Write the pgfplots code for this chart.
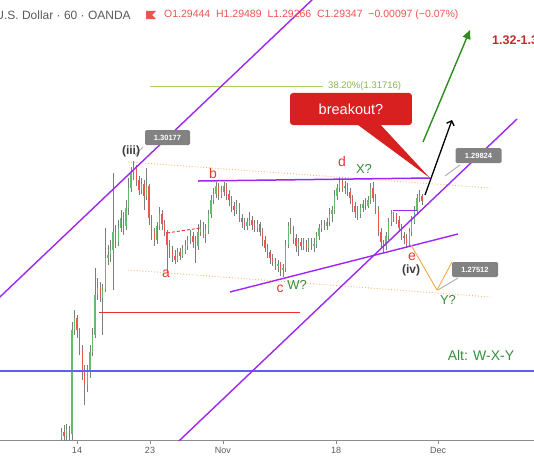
\documentclass[border=0pt]{standalone}
\usepackage{pgfplots}
\pgfplotsset{compat=1.18}
\usepackage{pgfplotstable}
\usepackage{fontspec}
\setmainfont{Liberation Sans}
\usetikzlibrary{arrows.meta}

\definecolor{wickgray}{RGB}{125,125,125}
\definecolor{upgreen}{RGB}{102,187,106}
\definecolor{downred}{RGB}{239,83,80}
\definecolor{levelred}{RGB}{236,48,48}
\definecolor{purp}{RGB}{156,39,240}
\definecolor{blueline}{RGB}{92,96,245}
\definecolor{dotorange}{RGB}{249,182,100}
\definecolor{pathorange}{RGB}{247,168,70}
\definecolor{wavegreen}{RGB}{56,142,60}
\definecolor{wavered}{RGB}{229,57,53}
\definecolor{wavegray}{RGB}{60,60,60}
\definecolor{fibgreen}{RGB}{165,212,95}
\definecolor{calloutred}{RGB}{216,32,32}
\definecolor{boxgray}{RGB}{130,130,130}
\definecolor{axisgray}{RGB}{140,140,140}
\definecolor{tickgray}{RGB}{90,90,90}
\definecolor{arrowgreen}{RGB}{46,139,30}
\definecolor{targetred}{RGB}{200,40,40}

% 6-hour candles, x in trading days from 14 Oct
\pgfplotstableread{
d o h l c
-1.5 1.2446 1.2466 1.2437 1.2458
-1.25 1.2458 1.2472 1.2437 1.2450
-1.0 1.2450 1.2475 1.2437 1.2462
-0.75 1.2462 1.2470 1.2437 1.2454
-0.5 1.2454 1.2685 1.2442 1.2669
-0.25 1.2669 1.2710 1.2658 1.2693
0 1.2693 1.2700 1.2652 1.2669
0.25 1.2669 1.2673 1.2617 1.2627
0.5 1.2627 1.2638 1.2565 1.2582
0.75 1.2582 1.2596 1.2514 1.2555
1.0 1.2555 1.2596 1.2541 1.2582
1.25 1.2582 1.2638 1.2570 1.2623
1.5 1.2623 1.2673 1.2615 1.2658
1.75 1.2658 1.2797 1.2652 1.2741
2.0 1.2741 1.2776 1.2731 1.2755
2.25 1.2755 1.2768 1.2726 1.2735
2.5 1.2735 1.2764 1.2658 1.2751
2.75 1.2751 1.2879 1.2747 1.2817
3.0 1.2817 1.2844 1.2803 1.2823
3.25 1.2823 1.2854 1.2809 1.2834
3.5 1.2834 1.2993 1.2751 1.2871
3.75 1.2871 1.2885 1.2838 1.2850
4.0 1.2850 1.2896 1.2842 1.2879
4.25 1.2879 1.2916 1.2871 1.2900
4.5 1.2900 1.2912 1.2865 1.2883
4.75 1.2883 1.2937 1.2875 1.2920
5.0 1.2920 1.2982 1.2906 1.2962
5.25 1.2962 1.3005 1.2954 1.2995
5.5 1.2995 1.30177 1.2978 1.3003
5.75 1.3003 1.3009 1.2966 1.2978
6.0 1.2978 1.2987 1.2947 1.2958
6.25 1.2958 1.2982 1.2949 1.2970
6.5 1.2970 1.2978 1.2916 1.2945
6.75 1.2945 1.3003 1.2937 1.2966
7.0 1.2966 1.2970 1.2885 1.2900
7.25 1.2900 1.2906 1.2854 1.2871
7.5 1.2871 1.2879 1.2842 1.2854
7.75 1.2854 1.2892 1.2846 1.2883
8.0 1.2883 1.2923 1.2875 1.2908
8.25 1.2908 1.2916 1.2875 1.2887
8.5 1.2887 1.2896 1.2863 1.2871
8.75 1.2871 1.2875 1.2786 1.2844
9.0 1.2844 1.2854 1.2817 1.2834
9.25 1.2834 1.2842 1.2809 1.2821
9.5 1.2821 1.2834 1.2805 1.2813
9.75 1.2813 1.2838 1.2809 1.2830
10 1.2830 1.2838 1.2813 1.2821
10.25 1.2821 1.2844 1.2817 1.2834
10.5 1.2834 1.2854 1.2826 1.2842
10.75 1.2842 1.2863 1.2834 1.2854
11 1.2854 1.2875 1.2846 1.2863
11.25 1.2863 1.2871 1.2838 1.2850
11.5 1.2850 1.2863 1.2807 1.2842
11.75 1.2842 1.2887 1.2834 1.2871
12 1.2871 1.2896 1.2863 1.2879
12.25 1.2879 1.2892 1.2859 1.2867
12.5 1.2867 1.2887 1.2848 1.2875
12.75 1.2875 1.2916 1.2867 1.2908
13 1.2908 1.2947 1.2900 1.2937
13.25 1.2937 1.2962 1.2929 1.2949
13.5 1.2949 1.2974 1.2941 1.2966
13.75 1.2966 1.2972 1.2937 1.2947
14 1.2947 1.2966 1.2941 1.2954
14.25 1.2954 1.2974 1.2945 1.2966
14.5 1.2966 1.2972 1.2937 1.2949
14.75 1.2949 1.2958 1.2925 1.2937
15 1.2937 1.2945 1.2912 1.2925
15.25 1.2925 1.2933 1.2904 1.2916
15.5 1.2916 1.2937 1.2908 1.2927
15.75 1.2927 1.2931 1.2892 1.2900
16 1.2900 1.2908 1.2879 1.2892
16.25 1.2892 1.2900 1.2875 1.2883
16.5 1.2883 1.2900 1.2875 1.2892
16.75 1.2892 1.2912 1.2883 1.2896
17 1.2896 1.2904 1.2875 1.2885
17.25 1.2885 1.2896 1.2871 1.2879
17.5 1.2879 1.2896 1.2871 1.2887
17.75 1.2887 1.2892 1.2863 1.2871
18 1.2871 1.2879 1.2842 1.2854
18.25 1.2854 1.2863 1.2830 1.2838
18.5 1.2838 1.2846 1.2817 1.2830
18.75 1.2830 1.2834 1.2805 1.2817
19 1.2817 1.2826 1.2801 1.2809
19.25 1.2809 1.2817 1.2793 1.2801
19.5 1.2801 1.2813 1.2788 1.2805
19.75 1.2805 1.2809 1.2780 1.2793
20 1.2793 1.2805 1.2778 1.2797
20.25 1.2797 1.2854 1.2788 1.2844
20.5 1.2844 1.2892 1.2838 1.2883
20.75 1.2883 1.2900 1.2867 1.2879
21 1.2879 1.2883 1.2846 1.2859
21.25 1.2859 1.2867 1.2830 1.2842
21.5 1.2842 1.2859 1.2821 1.2850
21.75 1.2850 1.2859 1.2834 1.2842
22 1.2842 1.2859 1.2834 1.2846
22.25 1.2846 1.2854 1.2830 1.2838
22.5 1.2838 1.2859 1.2830 1.2850
22.75 1.2850 1.2859 1.2834 1.2842
23 1.2842 1.2859 1.2830 1.2846
23.25 1.2846 1.2871 1.2838 1.2863
23.5 1.2863 1.2887 1.2854 1.2879
23.75 1.2879 1.2896 1.2871 1.2885
24 1.2885 1.2896 1.2875 1.2883
24.25 1.2883 1.2900 1.2875 1.2892
24.5 1.2892 1.2920 1.2883 1.2908
24.75 1.2908 1.2925 1.2892 1.2916
25 1.2916 1.2958 1.2908 1.2945
25.25 1.2945 1.2970 1.2937 1.2962
25.5 1.2962 1.2985 1.2954 1.2974
25.75 1.2974 1.2978 1.2954 1.2962
26 1.2962 1.2976 1.2949 1.2966
26.25 1.2966 1.2972 1.2945 1.2954
26.5 1.2954 1.2962 1.2929 1.2941
26.75 1.2941 1.2947 1.2912 1.2925
27 1.2925 1.2933 1.2900 1.2912
27.25 1.2912 1.2925 1.2896 1.2908
27.5 1.2908 1.2929 1.2900 1.2920
27.75 1.2920 1.2937 1.2912 1.2929
28 1.2929 1.2941 1.2916 1.2925
28.25 1.2925 1.2945 1.2920 1.2937
28.5 1.2937 1.2972 1.2929 1.2962
28.75 1.2962 1.2974 1.2933 1.2941
29 1.2941 1.2949 1.2908 1.2916
29.25 1.2916 1.2925 1.2863 1.2871
29.5 1.2871 1.2879 1.2838 1.2850
29.75 1.2850 1.2854 1.2830 1.2842
30 1.2842 1.2871 1.2834 1.2863
30.25 1.2863 1.2900 1.2854 1.2892
30.5 1.2892 1.2916 1.2883 1.2908
30.75 1.2908 1.2912 1.2892 1.2904
31 1.2904 1.2910 1.2887 1.2896
31.25 1.2896 1.2904 1.2871 1.2879
31.5 1.2879 1.2887 1.2854 1.2863
31.75 1.2863 1.2871 1.2846 1.2859
32 1.2859 1.2867 1.2838 1.2846
32.25 1.2846 1.2879 1.2842 1.2871
32.5 1.2871 1.2904 1.2863 1.2892
32.75 1.2892 1.2925 1.2887 1.2916
33 1.2916 1.2949 1.2908 1.2941
33.25 1.2941 1.2958 1.2933 1.29444
33.5 1.29444 1.29489 1.29266 1.29347
}\candles

\begin{document}
\begin{tikzpicture}
\begin{axis}[
  at={(0pt,0pt)}, anchor=south west,
  scale only axis, width=534pt, height=440pt,
  xmin=-7.476, xmax=44.369, ymin=1.24415, ymax=1.33499,
  axis x line*=bottom, axis y line=none,
  x axis line style={draw=axisgray, line width=0.9pt, -},
  xtick={0,7.087,14.17,25.15,35.05},
  xticklabels={14,23,Nov,18,Dec},
  xtick align=outside, major tick length=4pt,
  tick style={draw=axisgray, line width=0.7pt},
  xticklabel style={font=\fontsize{9}{10}\selectfont, text=tickgray},
  ytick=\empty,
  clip=true,
]
% wicks
\addplot[draw=none, fill=none, mark=none, forget plot,
  error bars/.cd, y dir=plus, y explicit, error mark=none,
  error bar style={line width=0.55pt, draw=wickgray}]
  table[x=d, y=l, y error plus expr=\thisrow{h}-\thisrow{l}] {\candles};
% rising bodies
\addplot[draw=none, fill=none, mark=none, forget plot,
  x filter/.expression={\thisrow{c}>=\thisrow{o} ? x : nan},
  error bars/.cd, y dir=plus, y explicit, error mark=none,
  error bar style={line width=1.3pt, draw=upgreen}]
  table[x=d, y=o, y error plus expr=\thisrow{c}-\thisrow{o}] {\candles};
% falling bodies
\addplot[draw=none, fill=none, mark=none, forget plot,
  x filter/.expression={\thisrow{c}<\thisrow{o} ? x : nan},
  error bars/.cd, y dir=plus, y explicit, error mark=none,
  error bar style={line width=1.3pt, draw=downred}]
  table[x=d, y=c, y error plus expr=\thisrow{o}-\thisrow{c}] {\candles};

% horizontal reference levels
\draw[blueline, line width=1.1pt] (axis cs:-8,1.25840) -- (axis cs:45,1.25840);
\draw[levelred, line width=1pt] (axis cs:2.136,1.27037) -- (axis cs:21.65,1.27037);
\draw[levelred, line width=0.9pt, dash pattern=on 3pt off 2pt] (axis cs:8.738,1.28689) -- (axis cs:11.942,1.28792);
\draw[fibgreen, line width=1pt] (axis cs:7.087,1.31716) -- (axis cs:23.883,1.31716);
\node[anchor=west, text=fibgreen!85!black, font=\fontsize{9.5}{10}\selectfont, inner sep=0pt]
  at (axis cs:24.37,1.31716) {38.20\%(1.31716)};

% dotted triangle boundaries
\draw[dotorange, line width=0.9pt, dotted] (axis cs:4.951,1.30155) -- (axis cs:40.097,1.29618);
\draw[dotorange, line width=0.9pt, dotted] (axis cs:4.951,1.27925) -- (axis cs:40.097,1.27368);

% rising channel
\draw[purp, line width=1.4pt] (axis cs:-9.42,1.26976) -- (axis cs:24.85,1.33912);
\draw[purp, line width=1.4pt] (axis cs:8.98,1.24209) -- (axis cs:42.72,1.31042);
% triangle
\draw[purp, line width=1.5pt] (axis cs:11.748,1.29762) -- (axis cs:34.272,1.29824);
\draw[purp, line width=1.4pt] (axis cs:14.854,1.27471) -- (axis cs:36.99,1.28668);
\draw[purp, line width=1pt] (axis cs:30.68,1.29143) -- (axis cs:33.01,1.29143);

% projected Y leg
\draw[pathorange, line width=0.9pt] (axis cs:32.427,1.28441) -- (axis cs:34.951,1.27512) -- (axis cs:36.408,1.2809);

% arrows
\draw[black, line width=1.3pt, -{Straight Barb[length=4pt,width=8pt]}] (axis cs:33.786,1.29473) -- (axis cs:36.408,1.31022);
\draw[arrowgreen, line width=1.4pt, -{Triangle[length=9pt,width=8pt]}] (axis cs:33.592,1.30568) -- (axis cs:38.155,1.3288);
\node[anchor=west, text=targetred, font=\bfseries\fontsize{12.5}{13}\selectfont, inner sep=0pt]
  at (axis cs:40.29,1.32673) {1.32-1.33};

% callout
\fill[calloutred] (axis cs:27.18,1.30935) -- (axis cs:34.27,1.29824) -- (axis cs:29.42,1.30935) -- cycle;
\fill[calloutred, rounded corners=3pt] (axis cs:20.68,1.31579) rectangle (axis cs:32.52,1.30918);
\node[text=white, font=\fontsize{14.5}{15}\selectfont] at (axis cs:26.6,1.31249) {breakout?};

% price tags
\draw[gray!60, line width=1pt] (axis cs:6.408,1.30464) -- (axis cs:5.631,1.30299);
\node[fill=boxgray, text=white, font=\bfseries\fontsize{7.5}{8}\selectfont, rounded corners=1.5pt,
  minimum width=45pt, minimum height=15pt, inner sep=0pt] at (axis cs:8.786,1.3066) {1.30177};
\draw[gray!60, line width=1pt] (axis cs:37.18,1.30093) -- (axis cs:35.73,1.29866);
\node[fill=boxgray, text=white, font=\bfseries\fontsize{7.5}{8}\selectfont, rounded corners=1.5pt,
  minimum width=46pt, minimum height=15pt, inner sep=0pt] at (axis cs:38.98,1.30288) {1.29824};
\draw[gray!60, line width=1pt] (axis cs:36.99,1.2776) -- (axis cs:35.05,1.27512);
\node[fill=boxgray, text=white, font=\bfseries\fontsize{7.5}{8}\selectfont, rounded corners=1.5pt,
  minimum width=46pt, minimum height=15pt, inner sep=0pt] at (axis cs:38.64,1.27935) {1.27512};

% wave labels
\node[text=wavegray, font=\bfseries\fontsize{12}{13}\selectfont] at (axis cs:5.243,1.30382) {(iii)};
\node[text=wavered, font=\fontsize{14}{15}\selectfont] at (axis cs:8.641,1.27843) {a};
\node[text=wavered, font=\fontsize{14}{15}\selectfont] at (axis cs:13.204,1.29907) {b};
\node[text=wavered, font=\fontsize{14}{15}\selectfont] at (axis cs:19.709,1.27533) {c};
\node[text=wavegreen, font=\fontsize{13}{14}\selectfont] at (axis cs:21.359,1.27615) {W?};
\node[text=wavered, font=\fontsize{14}{15}\selectfont] at (axis cs:25.728,1.30175) {d};
\node[text=wavegreen, font=\fontsize{13}{14}\selectfont] at (axis cs:27.864,1.3001) {X?};
\node[text=wavered, font=\fontsize{14}{15}\selectfont] at (axis cs:32.524,1.28193) {e};
\node[text=wavegray, font=\bfseries\fontsize{12}{13}\selectfont] at (axis cs:32.427,1.27925) {(iv)};
\node[text=wavegreen, font=\fontsize{13}{14}\selectfont] at (axis cs:36.019,1.27306) {Y?};
\node[text=wavegreen, font=\fontsize{14}{15}\selectfont] at (axis cs:39.22,1.2615) {Alt: W-X-Y};

% header line
\node[anchor=west, text=tickgray, font=\fontsize{12}{13}\selectfont, inner sep=0pt]
  at (axis description cs:-0.009,0.9659) {U.S. Dollar · 60 · OANDA};
\fill[downred] (axis description cs:0.2734,0.9750) -- (axis description cs:0.2921,0.9750)
  -- (axis description cs:0.2850,0.9659) -- (axis description cs:0.2921,0.9568)
  -- (axis description cs:0.2734,0.9568) -- cycle;
\node[anchor=west, text=downred, font=\fontsize{10.5}{11}\selectfont, inner sep=0pt]
  at (axis description cs:0.3071,0.9659) {O1.29444\ \ H1.29489\ \ L1.29266\ \ C1.29347\ \ −0.00097 (−0.07\%)};
\end{axis}
\pgfresetboundingbox
\path[use as bounding box] (0pt,-22pt) rectangle (534pt,440pt);
\end{tikzpicture}
\end{document}
